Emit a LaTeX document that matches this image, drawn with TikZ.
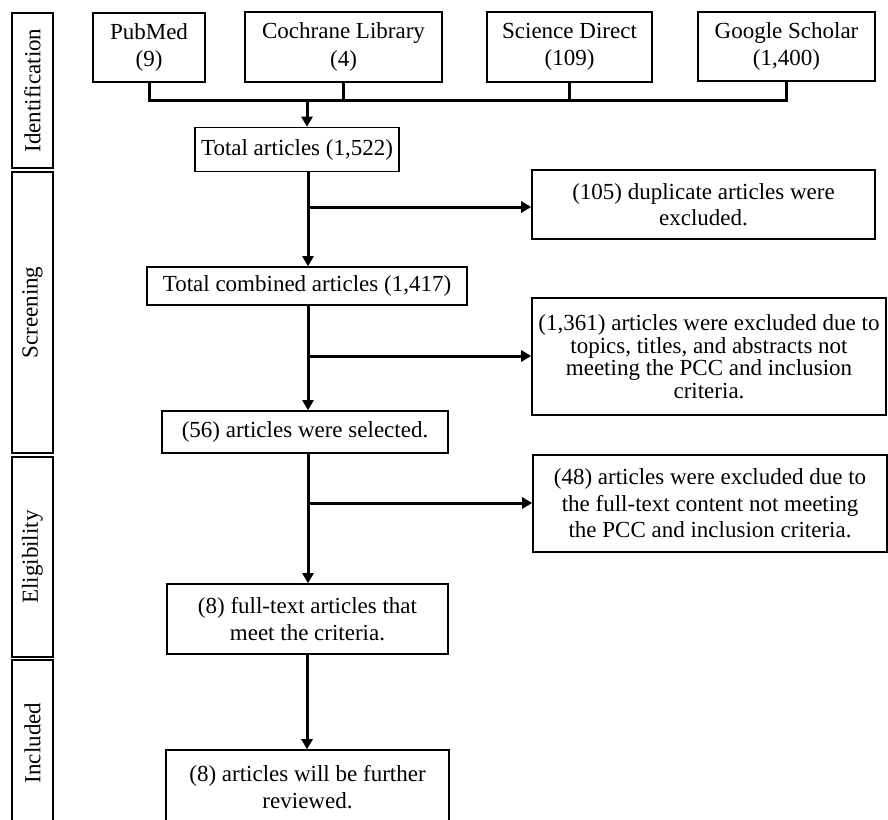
\documentclass[tikz,border=0pt]{standalone}
\usepackage{fontspec}
\setmainfont{Liberation Serif}
\usetikzlibrary{arrows.meta}
\begin{document}
\begin{tikzpicture}[x=1pt,y=-1pt,
  box/.style={draw, line width=1.6pt, inner sep=0pt, align=center, font=\fontsize{23}{26.5}\selectfont},
  srcbox/.style={box, font=\fontsize{23}{27.5}\selectfont},
  conn/.style={line width=3pt},
  arr/.style={conn, -{Triangle[length=10pt,width=11pt]}},
  side/.style={draw, line width=1.6pt, minimum height=41pt, inner sep=0pt, rotate=90, font=\fontsize{23}{26}\selectfont}
]
\useasboundingbox (0,0) rectangle (888,819);
\clip (0,0) rectangle (888,819);
% stage labels
\node[side, minimum width=155pt] (idl) at (32.5,90.5) {Identification};
\node[side, minimum width=281pt] (scl) at (32.5,312.5) {Screening};
\node[side, minimum width=200pt] (ell) at (32.5,557) {Eligibility};
\node[side, minimum width=166pt] (inl) at (32.5,743) {Included};
% boxes
\node[srcbox, minimum width=112pt, minimum height=69pt] (pub) at (149,47.5) {PubMed\\(9)};
\node[srcbox, minimum width=197pt, minimum height=70pt] (coch) at (343.5,47) {Cochrane Library\\(4)};
\node[srcbox, minimum width=165pt, minimum height=70pt] (sd) at (569.5,47) {Science Direct\\(109)};
\node[srcbox, minimum width=177pt, minimum height=69pt] (gs) at (786.5,46.5) {Google Scholar\\(1,400)};
\node[box, minimum width=204pt, minimum height=44pt] (tot) at (297,149.5) {Total articles (1,522)};
\node[box, minimum width=343pt, minimum height=69pt] (dup) at (703.5,204.5) {(105) duplicate articles were\\excluded.};
\node[box, minimum width=320pt, minimum height=38pt] (comb) at (307,286) {Total combined articles (1,417)};
\node[box, minimum width=354pt, minimum height=117pt, font=\fontsize{23}{22.5}\selectfont] (ex1) at (709,356.5) {(1,361) articles were excluded due to\\topics, titles, and abstracts not\\meeting the PCC and inclusion\\criteria.};
\node[box, minimum width=286pt, minimum height=42pt] (sel) at (305,432) {(56) articles were selected.};
\node[box, minimum width=354pt, minimum height=97pt] (ex2) at (710,503.5) {(48) articles were excluded due to\\the full-text content not meeting\\the PCC and inclusion criteria.};
\node[box, minimum width=281pt, minimum height=70pt] (ft) at (307.5,619) {(8) full-text articles that\\meet the criteria.};
\node[box, minimum width=283pt, minimum height=74pt] (fin) at (307.5,787) {(8) articles will be further\\reviewed.};
% connectors
\coordinate (bus) at (307,100);
\draw[conn] (pub.south) |- (bus) -| (gs.south);
\draw[conn] (coch.south) -- (coch.south |- bus);
\draw[conn] (sd.south) -- (sd.south |- bus);
\draw[arr] (bus) -- (bus |- tot.north);
\coordinate (b1) at (308,207);
\draw[arr] (b1 |- tot.south) -- (b1 |- comb.north);
\draw[arr] (b1) -- (b1 -| dup.west);
\coordinate (b2) at (308,356);
\draw[arr] (b2 |- comb.south) -- (b2 |- sel.north);
\draw[arr] (b2) -- (b2 -| ex1.west);
\coordinate (b3) at (308,503);
\draw[arr] (b3 |- sel.south) -- (b3 |- ft.north);
\draw[arr] (b3) -- (b3 -| ex2.west);
\coordinate (b4) at (307,700);
\draw[arr] (b4 |- ft.south) -- (b4 |- fin.north);
\end{tikzpicture}
\end{document}
